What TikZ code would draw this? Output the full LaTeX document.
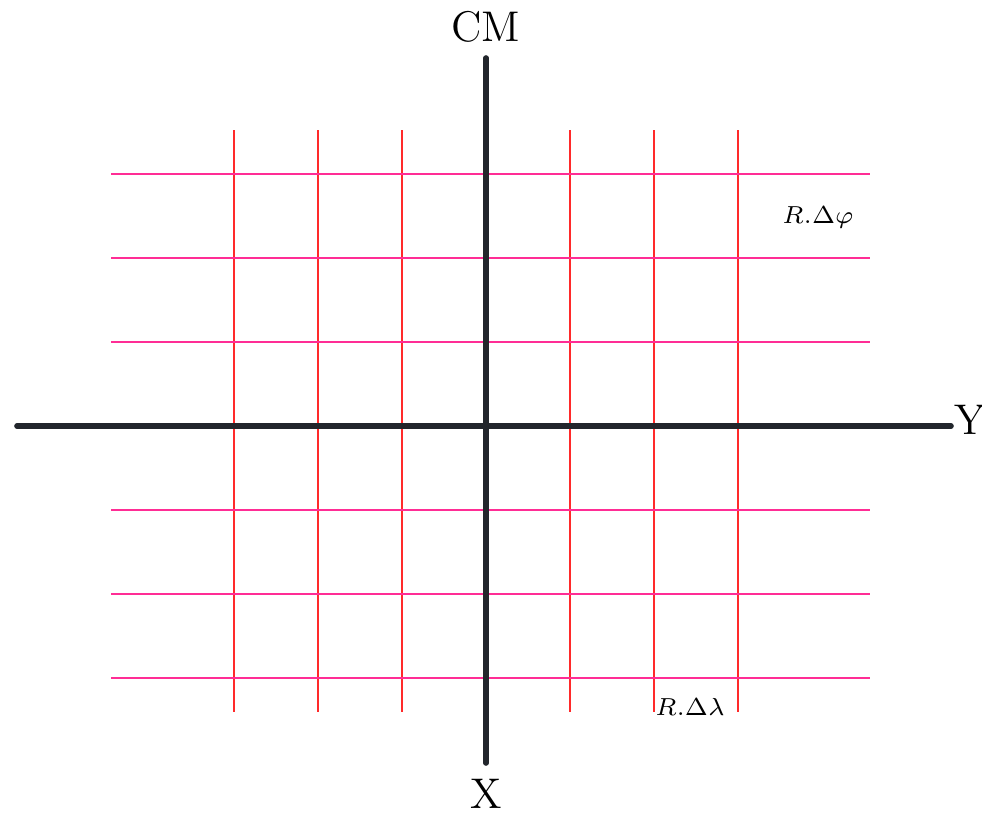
\documentclass[tikz,border=0pt]{standalone}
\usepackage{amsmath,amssymb}
\usepackage{tikz}
\usetikzlibrary{positioning,calc}
\usepackage{xcolor}
\definecolor{axisdark}{HTML}{22262C}
\definecolor{gridred}{HTML}{FF2A2A}
\definecolor{gridpink}{HTML}{FF2D95}

\begin{document}
\begin{tikzpicture}[
    x=0.01cm, y=-0.01cm,
    axis_line/.style={
      line width=1.6pt, axisdark, line cap=round
    },
    grid_vert/.style={
      line width=0.4pt, gridred
    },
    grid_horz/.style={
      line width=0.4pt, gridpink
    },
    axis_label/.style={
      font=\fontsize{12.2}{14}\selectfont, inner sep=0pt
    },
    step_label/.style={
      font=\fontsize{7.2}{9}\selectfont, inner sep=0pt
    }
  ]
  \useasboundingbox (0,0) rectangle (982,812);

  % --- grid ---
  \foreach \gx in {234,318,402,570,654,738}
    \draw[grid_vert] (\gx,130) -- (\gx,712);
  \foreach \gy in {174,258,342,510,594,678}
    \draw[grid_horz] (111,\gy) -- (870,\gy);

  % --- axes ---
  \coordinate (Ytail) at (17,426);
  \coordinate (Yhead) at (951,426);
  \coordinate (Xtop) at (486,58);
  \coordinate (Xbot) at (486,763);
  \draw[axis_line] (Ytail) -- (Yhead);
  \draw[axis_line] (Xtop) -- (Xbot);

  \node[axis_label] (CM) at (486,27) {CM};
  \node[axis_label] (Ylab) at (970,420) {Y};
  \node[axis_label] (Xlab) at (486,794) {X};

  % --- step labels ---
  \node[step_label] (dphi) at (818,217) {$R.\Delta\varphi$};
  \node[step_label] (dlam) at (690,707) {$R.\Delta\lambda$};
\end{tikzpicture}
\end{document}
